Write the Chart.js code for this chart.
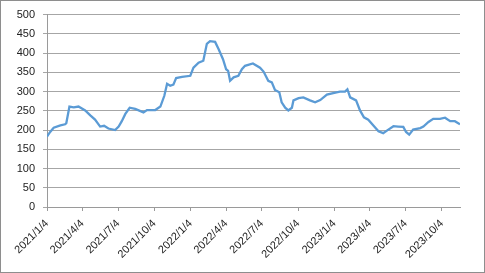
<!DOCTYPE html>
<html>
<head>
<meta charset="utf-8">
<script src="https://cdn.jsdelivr.net/npm/chart.js@4.4.0/dist/chart.umd.min.js"></script>
<style>
  html, body { margin: 0; padding: 0; background: #fff; }
  #wrap { width: 485px; height: 273px; }
</style>
</head>
<body>
<div id="wrap"><canvas id="grafico" width="485" height="273"></canvas></div>
<script>
// Datos
const fechas = [
  '2021-01-04','2021-01-12','2021-01-21','2021-02-07','2021-02-19','2021-02-22','2021-03-02','2021-03-13',
  '2021-03-25','2021-04-11','2021-04-24','2021-05-06','2021-05-19','2021-05-29','2021-06-09','2021-06-26',
  '2021-07-05','2021-07-13','2021-07-22','2021-08-02','2021-08-16','2021-09-06','2021-09-15','2021-10-06',
  '2021-10-19','2021-10-29','2021-11-05','2021-11-13','2021-11-21','2021-11-28','2021-12-13','2022-01-03',
  '2022-01-11','2022-01-24','2022-02-05','2022-02-14','2022-02-22','2022-03-07','2022-03-16','2022-03-27',
  '2022-04-04','2022-04-09','2022-04-14','2022-04-23','2022-05-05','2022-05-14','2022-05-22','2022-06-11',
  '2022-06-29','2022-07-08','2022-07-20','2022-07-29','2022-08-06','2022-08-17','2022-08-23','2022-09-01',
  '2022-09-09','2022-09-18','2022-09-22','2022-10-05','2022-10-17','2022-11-03','2022-11-16','2022-11-29',
  '2022-12-16','2023-01-01','2023-01-18','2023-01-31','2023-02-06','2023-02-13','2023-02-28','2023-03-10',
  '2023-03-20','2023-03-31','2023-04-13','2023-04-26','2023-05-08','2023-05-21','2023-06-03','2023-06-15',
  '2023-06-28','2023-07-05','2023-07-13','2023-07-23','2023-08-10','2023-08-18','2023-08-31','2023-09-12',
  '2023-09-29','2023-10-12','2023-10-25','2023-11-06','2023-11-19'
];
const precios = [
  183, 195, 206, 212, 215, 218, 261, 259,
  261, 251, 238, 227, 209, 211, 204, 200,
  209, 223, 242, 258, 255, 246, 252, 252,
  261, 289, 320, 315, 318, 335, 338, 341,
  362, 375, 380, 424, 431, 429, 410, 384,
  358, 354, 328, 337, 341, 358, 367, 373,
  362, 352, 328, 324, 304, 298, 272, 258,
  251, 258, 277, 283, 285, 277, 272, 278,
  292, 296, 300, 300, 306, 285, 277, 251,
  233, 227, 212, 197, 192, 201, 210, 209,
  208, 195, 188, 201, 205, 209, 221, 229,
  229, 232, 223, 223, 215
];
const etiquetasX = [
  '2021/1/4','2021/4/4','2021/7/4','2021/10/4','2022/1/4','2022/4/4',
  '2022/7/4','2022/10/4','2023/1/4','2023/4/4','2023/7/4','2023/10/4'
];

// dias desde 2021/1/4
const base = Date.UTC(2021, 0, 4);
const dias = s => {
  const p = s.split(/[-\/]/).map(Number);
  return Math.round((Date.UTC(p[0], p[1] - 1, p[2]) - base) / 86400000);
};
const puntos = fechas.map((f, i) => ({ x: dias(f), y: precios[i] }));
const posTicks = etiquetasX.map(dias);
const nombreTick = {};
etiquetasX.forEach(e => { nombreTick[dias(e)] = e; });

const borde = {
  id: 'borde',
  afterDraw(chart) {
    const c = chart.ctx;
    c.save();
    c.strokeStyle = '#8e8e8e';
    c.lineWidth = 1;
    c.strokeRect(0.5, 0.5, chart.width - 1, chart.height - 1);
    c.restore();
  }
};

const ctx = document.getElementById('grafico').getContext('2d');
const grafico = new Chart(ctx, {
  type: 'line',
  data: {
    datasets: [{
      data: puntos,
      borderColor: '#5B9BD5',
      borderWidth: 2.3,
      pointRadius: 0,
      tension: 0,
      fill: false
    }]
  },
  options: {
    responsive: false,
    animation: false,
    layout: { padding: { left: 0, right: 25, top: 13, bottom: 0 } },
    plugins: { legend: { display: false }, tooltip: { enabled: false } },
    scales: {
      x: {
        type: 'linear',
        min: 0,
        max: 1049,
        afterBuildTicks: axis => { axis.ticks = posTicks.map(v => ({ value: v })); },
        afterFit: axis => { axis.height = 66; },
        ticks: {
          autoSkip: false,
          maxRotation: 45,
          minRotation: 45,
          padding: 6,
          color: '#222',
          font: { family: 'Liberation Sans', size: 11 },
          callback: v => nombreTick[v] || ''
        },
        grid: { drawOnChartArea: false, drawTicks: true, tickLength: 4, color: '#9a9a9a' },
        border: { display: true, color: '#9a9a9a' }
      },
      y: {
        min: 0,
        max: 500,
        afterFit: axis => { axis.width = 47; },
        ticks: {
          stepSize: 50,
          padding: 8,
          color: '#222',
          font: { family: 'Liberation Sans', size: 11 }
        },
        grid: { color: '#a6a6a6', tickLength: 4 },
        border: { display: true, color: '#9a9a9a' }
      }
    }
  },
  plugins: [borde]
});
</script>
</body>
</html>
